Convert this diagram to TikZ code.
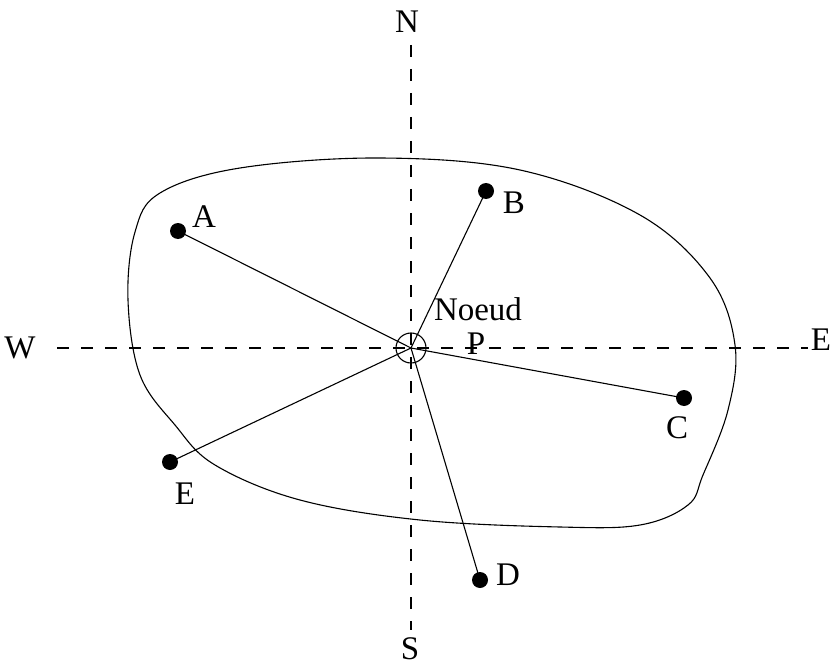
\documentclass[tikz,border=0pt]{standalone}
\usepackage{fontspec}
\setmainfont{Liberation Serif}
\begin{document}
\begin{tikzpicture}[x=1pt,y=-1pt,
  lbl/.style={inner sep=0pt,font=\fontsize{33}{37}\selectfont},
  pt/.style={circle,fill=black,inner sep=0pt,minimum size=16pt},
  axis/.style={line width=1.1pt,dash pattern=on 12pt off 12pt},
  seg/.style={line width=1.1pt}]
\useasboundingbox (0,0) rectangle (833,666);
% blob
\draw[line width=1.1pt] plot[smooth cycle,tension=0.6] coordinates {
 (380,158) (520,170) (640,215) (710,278) (735,345) (728,410) (703,475) (688,505)
 (640,525) (560,527) (420,520) (300,500) (215,465) (175,425) (140,375) (128,300)
 (135,232) (160,193) (240,168)};
\node (P) [circle,draw,line width=1.1pt,minimum size=30pt,inner sep=0pt] at (411,348) {};
\coordinate (Pc) at (411,348);
% axes
\node[lbl] (N) at (407,22) {N};
\node[lbl] (S) at (410,649) {S};
\node[lbl] (W) at (20,348) {W};
\node[lbl] (Ea) at (821,340) {E};
\coordinate (Nend) at (411,45);
\coordinate (Send) at (411,630);
\coordinate (Wend) at (57,348);
\coordinate (Eend) at (808,348);
\draw[axis] (Nend) -- (Send);
\draw[axis] (Wend) -- (Eend);
% points
\node[pt] (A) at (178,231) {};
\node[pt] (B) at (486,191) {};
\node[pt] (C) at (684,398) {};
\node[pt] (D) at (480,580) {};
\node[pt] (E) at (170,462) {};
\draw[seg] (Pc) -- (A.center);
\draw[seg] (Pc) -- (B.center);
\draw[seg] (Pc) -- (C.center);
\draw[seg] (Pc) -- (D.center);
\draw[seg] (Pc) -- (E.center);
\node[lbl] (lA) at (204,217) {A};
\node[lbl] (lB) at (514,203) {B};
\node[lbl] (lC) at (677,428) {C};
\node[lbl] (lD) at (508,575) {D};
\node[lbl] (lE) at (185,494) {E};
\node[lbl] (noeud) at (478,309) {Noeud};
\node[lbl] (lP) at (476,344) {P};
\end{tikzpicture}
\end{document}
